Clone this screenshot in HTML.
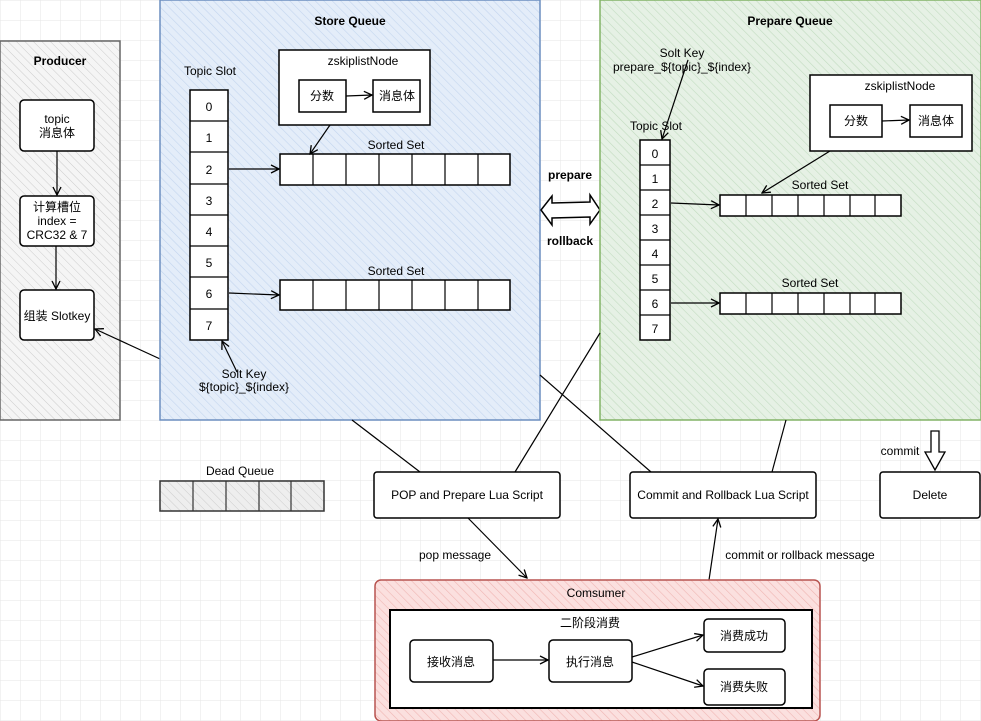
<!DOCTYPE html>
<html><head><meta charset="utf-8"><style>
html,body{margin:0;padding:0;background:#fff}
svg{display:block;font-family:"Liberation Sans","Noto Sans CJK SC",sans-serif}
</style></head><body>
<svg width="981" height="721" viewBox="0 0 981 721" xmlns="http://www.w3.org/2000/svg">
<defs>
<pattern id="grid" width="20" height="20" patternUnits="userSpaceOnUse"><path d="M20 0H0V20" fill="none" stroke="#e6e6e6" stroke-width="1"/></pattern>
<pattern id="hg" width="6" height="6" patternUnits="userSpaceOnUse" patternTransform="rotate(-45)"><line x1="0" y1="0" x2="0" y2="6" stroke="#ccc" stroke-width="1"/></pattern>
<pattern id="hb" width="6" height="6" patternUnits="userSpaceOnUse" patternTransform="rotate(-45)"><line x1="0" y1="0" x2="0" y2="6" stroke="#c3d5ee" stroke-width="1.2"/></pattern>
<pattern id="hgr" width="6" height="6" patternUnits="userSpaceOnUse" patternTransform="rotate(-45)"><line x1="0" y1="0" x2="0" y2="6" stroke="#c2dcc0" stroke-width="1.2"/></pattern>
<pattern id="hr" width="6" height="6" patternUnits="userSpaceOnUse" patternTransform="rotate(-45)"><line x1="0" y1="0" x2="0" y2="6" stroke="#efb5b3" stroke-width="1.2"/></pattern>
<marker id="a" markerWidth="10" markerHeight="10" refX="9" refY="5" orient="auto" markerUnits="userSpaceOnUse"><path d="M1 1L9 5L1 9" fill="none" stroke="#000" stroke-width="1.3"/></marker>
</defs>
<rect width="981" height="721" fill="url(#grid)"/>
<g font-size="12" text-anchor="middle" fill="#000">
<rect x="0" y="41" width="120" height="379" fill="#f5f5f5"/>
<rect x="0" y="41" width="120" height="379" fill="url(#hg)" stroke="#666" stroke-width="1.5"/>
<text x="60" y="65" font-weight="bold">Producer</text>
<g fill="#fff" stroke="#000" stroke-width="1.5">
<rect x="20" y="100" width="74" height="51" rx="4"/>
<rect x="20" y="196" width="74" height="50" rx="4"/>
<rect x="20" y="290" width="74" height="50" rx="4"/>
</g>
<text x="57" y="123">topic</text><text x="57" y="137">消息体</text>
<text x="57" y="211">计算槽位</text><text x="57" y="225">index =</text><text x="57" y="239">CRC32 &amp; 7</text>
<text x="57" y="320">组装 Slotkey</text>
<g stroke="#000" stroke-width="1.2" fill="none" marker-end="url(#a)">
<line x1="57" y1="151" x2="57" y2="195"/>
<line x1="56" y1="246" x2="56" y2="289"/>
<line x1="208" y1="381" x2="95" y2="329"/>
</g>
<rect x="160" y="0" width="380" height="420" fill="#e4edf9"/>
<rect x="160" y="0" width="380" height="420" fill="url(#hb)" stroke="#6c8ebf" stroke-width="1.5"/>
<text x="350" y="25" font-weight="bold">Store Queue</text>
<text x="210" y="75">Topic Slot</text>
<g fill="#fff" stroke="#000" stroke-width="1.5">
<rect x="190" y="90" width="38" height="250"/>
<rect x="279" y="50" width="151" height="75"/>
<rect x="299" y="80" width="47" height="32"/>
<rect x="373" y="80" width="47" height="32"/>
<rect x="280" y="154" width="230" height="31"/>
<rect x="280" y="280" width="230" height="30"/>
</g>
<g stroke="#000" stroke-width="1.2">
<line x1="190" y1="121" x2="228" y2="121"/><line x1="190" y1="152" x2="228" y2="152"/><line x1="190" y1="184" x2="228" y2="184"/><line x1="190" y1="215" x2="228" y2="215"/><line x1="190" y1="246" x2="228" y2="246"/><line x1="190" y1="277" x2="228" y2="277"/><line x1="190" y1="309" x2="228" y2="309"/>
<line x1="313" y1="154" x2="313" y2="185"/><line x1="346" y1="154" x2="346" y2="185"/><line x1="379" y1="154" x2="379" y2="185"/><line x1="412" y1="154" x2="412" y2="185"/><line x1="445" y1="154" x2="445" y2="185"/><line x1="478" y1="154" x2="478" y2="185"/>
<line x1="313" y1="280" x2="313" y2="310"/><line x1="346" y1="280" x2="346" y2="310"/><line x1="379" y1="280" x2="379" y2="310"/><line x1="412" y1="280" x2="412" y2="310"/><line x1="445" y1="280" x2="445" y2="310"/><line x1="478" y1="280" x2="478" y2="310"/>
</g>
<text x="209" y="111">0</text><text x="209" y="142">1</text><text x="209" y="174">2</text><text x="209" y="205">3</text><text x="209" y="236">4</text><text x="209" y="267">5</text><text x="209" y="298">6</text><text x="209" y="330">7</text>
<text x="363" y="65">zskiplistNode</text>
<text x="322" y="100">分数</text><text x="397" y="100">消息体</text>
<text x="396" y="149">Sorted Set</text><text x="396" y="275">Sorted Set</text>
<text x="244" y="378">Solt Key</text><text x="244" y="391">${topic}_${index}</text>
<g stroke="#000" stroke-width="1.2" fill="none" marker-end="url(#a)">
<line x1="346" y1="96" x2="372" y2="95"/>
<line x1="330" y1="125" x2="310" y2="154"/>
<line x1="229" y1="169" x2="279" y2="169"/>
<line x1="229" y1="293" x2="279" y2="295"/>
<line x1="237" y1="372" x2="222" y2="341"/>
</g>
<path d="M541 210L552 196L552 203L590 202L590 195L600 210L590 224L590 217L552 218L552 225Z" fill="#fff" stroke="#000" stroke-width="1.5"/>
<text x="570" y="179" font-weight="bold">prepare</text>
<text x="570" y="245" font-weight="bold">rollback</text>
<rect x="600" y="0" width="381" height="420" fill="#e6f1e5"/>
<rect x="600" y="0" width="381" height="420" fill="url(#hgr)" stroke="#82b366" stroke-width="1.5"/>
<text x="790" y="25" font-weight="bold">Prepare Queue</text>
<text x="682" y="57">Solt Key</text><text x="682" y="71">prepare_${topic}_${index}</text>
<text x="656" y="130">Topic Slot</text>
<g fill="#fff" stroke="#000" stroke-width="1.5">
<rect x="640" y="140" width="30" height="200"/>
<rect x="810" y="75" width="162" height="76"/>
<rect x="830" y="105" width="52" height="32"/>
<rect x="910" y="105" width="52" height="32"/>
<rect x="720" y="195" width="181" height="21"/>
<rect x="720" y="293" width="181" height="21"/>
</g>
<g stroke="#000" stroke-width="1.2">
<line x1="640" y1="165" x2="670" y2="165"/><line x1="640" y1="190" x2="670" y2="190"/><line x1="640" y1="215" x2="670" y2="215"/><line x1="640" y1="240" x2="670" y2="240"/><line x1="640" y1="265" x2="670" y2="265"/><line x1="640" y1="290" x2="670" y2="290"/><line x1="640" y1="315" x2="670" y2="315"/>
<line x1="746" y1="195" x2="746" y2="216"/><line x1="772" y1="195" x2="772" y2="216"/><line x1="798" y1="195" x2="798" y2="216"/><line x1="824" y1="195" x2="824" y2="216"/><line x1="850" y1="195" x2="850" y2="216"/><line x1="875" y1="195" x2="875" y2="216"/>
<line x1="746" y1="293" x2="746" y2="314"/><line x1="772" y1="293" x2="772" y2="314"/><line x1="798" y1="293" x2="798" y2="314"/><line x1="824" y1="293" x2="824" y2="314"/><line x1="850" y1="293" x2="850" y2="314"/><line x1="875" y1="293" x2="875" y2="314"/>
</g>
<text x="655" y="158">0</text><text x="655" y="183">1</text><text x="655" y="208">2</text><text x="655" y="233">3</text><text x="655" y="258">4</text><text x="655" y="283">5</text><text x="655" y="308">6</text><text x="655" y="333">7</text>
<text x="900" y="90">zskiplistNode</text>
<text x="856" y="125">分数</text><text x="936" y="125">消息体</text>
<text x="820" y="189">Sorted Set</text><text x="810" y="287">Sorted Set</text>
<g stroke="#000" stroke-width="1.2" fill="none" marker-end="url(#a)">
<line x1="882" y1="121" x2="909" y2="120"/>
<line x1="830" y1="151" x2="762" y2="193"/>
<line x1="688" y1="60" x2="662" y2="139"/>
<line x1="671" y1="203" x2="719" y2="205"/>
<line x1="671" y1="303" x2="719" y2="303"/>
</g>
<g stroke="#000" stroke-width="1.2">
<line x1="352" y1="420" x2="420" y2="472"/>
<line x1="515" y1="472" x2="600" y2="333"/>
<line x1="540" y1="375" x2="651" y2="472"/>
<line x1="786" y1="420" x2="772" y2="472"/>
</g>
<text x="240" y="475">Dead Queue</text>
<rect x="160" y="481" width="164" height="30" fill="#eee"/>
<rect x="160" y="481" width="164" height="30" fill="url(#hg)" stroke="#333" stroke-width="1.5"/>
<g stroke="#333" stroke-width="1.2"><line x1="193" y1="481" x2="193" y2="511"/><line x1="226" y1="481" x2="226" y2="511"/><line x1="259" y1="481" x2="259" y2="511"/><line x1="291" y1="481" x2="291" y2="511"/></g>
<g fill="#fff" stroke="#000" stroke-width="1.5">
<rect x="374" y="472" width="186" height="46" rx="3"/>
<rect x="630" y="472" width="186" height="46" rx="3"/>
<rect x="880" y="472" width="100" height="46" rx="3"/>
</g>
<text x="467" y="499">POP and Prepare Lua Script</text>
<text x="723" y="499">Commit and Rollback Lua Script</text>
<text x="930" y="499">Delete</text>
<text x="900" y="455">commit</text>
<path d="M931 431L939 431L939 452L945 452L935 470L925 452L931 452Z" fill="#fff" stroke="#000" stroke-width="1.3"/>
<text x="455" y="559">pop message</text>
<text x="800" y="559">commit or rollback message</text>
<g stroke="#000" stroke-width="1.2" fill="none" marker-end="url(#a)">
<line x1="468" y1="518" x2="527" y2="578"/>
<line x1="709" y1="580" x2="718" y2="519"/>
</g>
<rect x="375" y="580" width="445" height="141" rx="6" fill="#fbe0df"/>
<rect x="375" y="580" width="445" height="141" rx="6" fill="url(#hr)" stroke="#b85450" stroke-width="1.5"/>
<text x="596" y="597">Comsumer</text>
<rect x="390" y="610" width="422" height="98" fill="#fff" stroke="#000" stroke-width="2"/>
<text x="590" y="627">二阶段消费</text>
<g fill="#fff" stroke="#000" stroke-width="1.5">
<rect x="410" y="640" width="83" height="42" rx="4"/>
<rect x="549" y="640" width="83" height="42" rx="4"/>
<rect x="704" y="619" width="81" height="33" rx="4"/>
<rect x="704" y="669" width="81" height="36" rx="4"/>
</g>
<text x="451" y="666">接收消息</text><text x="590" y="666">执行消息</text>
<text x="744" y="640">消费成功</text><text x="744" y="691">消费失败</text>
<g stroke="#000" stroke-width="1.2" fill="none" marker-end="url(#a)">
<line x1="493" y1="660" x2="548" y2="660"/>
<line x1="632" y1="657" x2="703" y2="635"/>
<line x1="632" y1="662" x2="703" y2="686"/>
</g>
</g>
</svg>
</body></html>
